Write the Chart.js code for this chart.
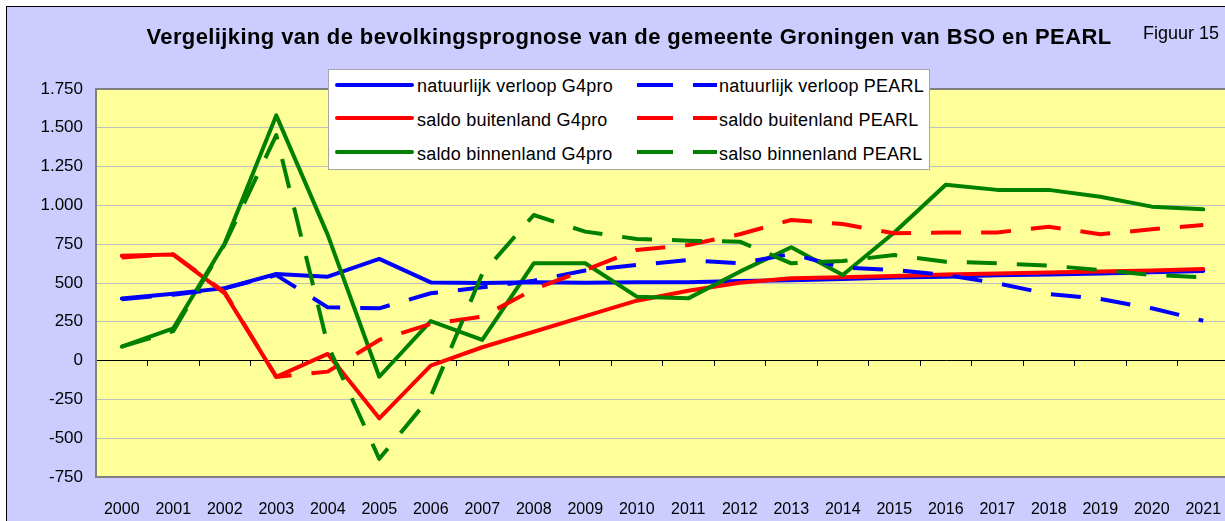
<!DOCTYPE html>
<html>
<head>
<meta charset="utf-8">
<script src="https://cdn.jsdelivr.net/npm/chart.js@4.4.1/dist/chart.umd.min.js"></script>
<style>
  body { margin: 0; width: 1225px; height: 521px; overflow: hidden; position: relative; background: #fff;
         font-family: Arial, "Liberation Sans", sans-serif; color: #000; }
  #frame { position: absolute; left: 6px; top: 6px; width: 1240px; height: 530px; border: 1px solid #000; background: #ccccff; }
  #chart { position: absolute; left: 0; top: 0; }
  #title { position: absolute; left: 0; width: 1258px; top: 26px; text-align: center; font-weight: bold; font-size: 22px; letter-spacing: 0.4px; line-height: 1; white-space: nowrap; }
  #fig { position: absolute; left: 1143px; top: 24px; font-size: 18px; line-height: 1; white-space: nowrap; }
  #legend { position: absolute; left: 328px; top: 69px; width: 600px; height: 99px; background: #fff; border: 1px solid #a6a6a6; }
  .sample { position: absolute; height: 4px; }
  .lbl { position: absolute; font-size: 18px; letter-spacing: 0.2px; line-height: 20px; white-space: nowrap; }
</style>
</head>
<body>
<div id="frame"><canvas id="chart" width="1240" height="530"></canvas></div>
<div id="title">Vergelijking van de bevolkingsprognose van de gemeente Groningen van BSO en PEARL</div>
<div id="fig">Figuur 15</div>
<div id="legend"></div>
<script>
const years = ["2000","2001","2002","2003","2004","2005","2006","2007","2008","2009","2010",
               "2011","2012","2013","2014","2015","2016","2017","2018","2019","2020","2021"];

// G4pro (doorgetrokken lijnen)
const natuurlijkG4pro = [400, 430, 467, 558, 541, 655, 504, 500, 505, 502, 505, 505, 513, 518, 525, 535, 540, 550, 555, 562, 570, 578];
const buitenlandG4pro = [675, 683, 433, -105, 43, -372, -33, 86, 186, 287, 386, 450, 502, 530, 537, 545, 555, 562, 568, 574, 581, 590];
const binnenlandG4pro = [90, 208, 756, 1580, 810, -104, 255, 133, 627, 627, 412, 401, 573, 730, 552, 825, 1133, 1100, 1100, 1056, 992, 975];

// PEARL (gestreepte lijnen)
const natuurlijkPearl = [395, 425, 465, 551, 343, 337, 434, 472, 515, 580, 616, 648, 627, 687, 600, 584, 552, 498, 429, 397, 337, 257];
const buitenlandPearl = [665, 685, 440, -105, -71, 133, 236, 283, 459, 584, 713, 745, 814, 906, 880, 820, 826, 826, 863, 814, 846, 874];
const binnenlandPearl = [90, 190, 750, 1453, 100, -633, -230, 560, 938, 831, 784, 773, 766, 627, 642, 680, 637, 627, 612, 584, 552, 537];

const namesG4pro = ["natuurlijk verloop G4pro", "saldo buitenland G4pro", "saldo binnenland G4pro"];
const namesPearl = ["natuurlijk verloop PEARL", "saldo buitenland PEARL", "salso binnenland PEARL"];
const colors = ["#0000ff", "#ff0000", "#008000"];

const yMin = -750, yMax = 1750, yStep = 250;

const FONT = "Arial, 'Liberation Sans', sans-serif";

// 1.750 style numbers
const fmt = v => (v < 0 ? "-" : "") + Math.abs(v).toString().replace(/\B(?=(\d{3})+(?!\d))/g, ".");

const g4Series = [natuurlijkG4pro, buitenlandG4pro, binnenlandG4pro];
const pearlSeries = [natuurlijkPearl, buitenlandPearl, binnenlandPearl];

const datasets = [];
g4Series.forEach((d, i) => datasets.push({
  label: namesG4pro[i], data: d, borderColor: colors[i], borderWidth: 4,
  borderCapStyle: "round", borderJoinStyle: "round", pointRadius: 0, fill: false, xAxisID: "x", yAxisID: "y"
}));
pearlSeries.forEach((d, i) => datasets.push({
  label: namesPearl[i], data: d, borderColor: colors[i], borderWidth: 4, borderDash: [30, 20],
  borderCapStyle: "butt", borderJoinStyle: "round", pointRadius: 0, fill: false, xAxisID: "x", yAxisID: "y"
}));
// later series on top
datasets.forEach((ds, i) => ds.order = datasets.length - i);

// yellow plot area + grey frame
const plotArea = {
  id: "plotArea",
  beforeDraw(chart) {
    const { ctx, chartArea: a } = chart;
    ctx.save();
    ctx.fillStyle = "#ffff99";
    ctx.fillRect(a.left, a.top, a.width, a.height);
    ctx.restore();
  },
  beforeDatasetsDraw(chart) {
    const { ctx, chartArea: a } = chart;
    ctx.save();
    ctx.strokeStyle = "#808080";
    ctx.lineWidth = 2;
    ctx.strokeRect(a.left, a.top, a.width, a.height);
    ctx.restore();
  }
};

new Chart(document.getElementById("chart"), {
  type: "line",
  data: { labels: years, datasets },
  options: {
    responsive: false,
    animation: false,
    layout: { padding: { left: 0, top: 82, right: 18, bottom: 0 } },
    plugins: { legend: { display: false }, tooltip: { enabled: false }, title: { display: false } },
    scales: {
      x: {
        type: "category", axis: "x", position: "bottom", offset: true,
        grid: { display: false }, border: { display: false },
        ticks: { color: "#000", font: { family: FONT, size: 16 }, padding: 15, maxRotation: 0, autoSkip: false },
        afterFit: s => { s.height = 60; }
      },
      xZero: {
        type: "category", axis: "x", position: { y: 0 }, offset: true,
        ticks: { display: false },
        grid: { offset: true, drawOnChartArea: false, drawTicks: true, tickLength: 5, color: "#000", lineWidth: 1 },
        border: { display: true, color: "#000", width: 1 }
      },
      y: {
        min: yMin, max: yMax,
        ticks: { stepSize: yStep, color: "#000", font: { family: FONT, size: 17 }, padding: 13, callback: v => fmt(v) },
        grid: { color: "#c0c0c0", lineWidth: 1, drawTicks: false },
        border: { color: "#808080", width: 2 },
        afterFit: s => { s.width = 89; }
      }
    }
  },
  plugins: [plotArea]
});

// legend in two columns, like the original
const legend = document.getElementById("legend");
const rowY = [84.5, 118, 152];
const box = { x: 329, y: 70 }; // inner origin of legend box (page coords)
function addEl(cls, left, top, width, color, text) {
  const el = document.createElement("div");
  el.className = cls;
  el.style.left = (left - box.x) + "px";
  el.style.top = (top - box.y) + "px";
  if (width) el.style.width = width + "px";
  if (color) el.style.background = color;
  if (text) el.textContent = text;
  legend.appendChild(el);
  return el;
}
rowY.forEach((yc, i) => {
  const solid = addEl("sample", 335, yc - 2, 79, colors[i]);
  solid.style.borderRadius = "2px";
  addEl("lbl", 417, yc - 8.5, 0, null, namesG4pro[i]);
  addEl("sample", 637, yc - 2, 36, colors[i]);
  addEl("sample", 693, yc - 2, 24, colors[i]);
  addEl("lbl", 719, yc - 8.5, 0, null, namesPearl[i]);
});
</script>
</body>
</html>
